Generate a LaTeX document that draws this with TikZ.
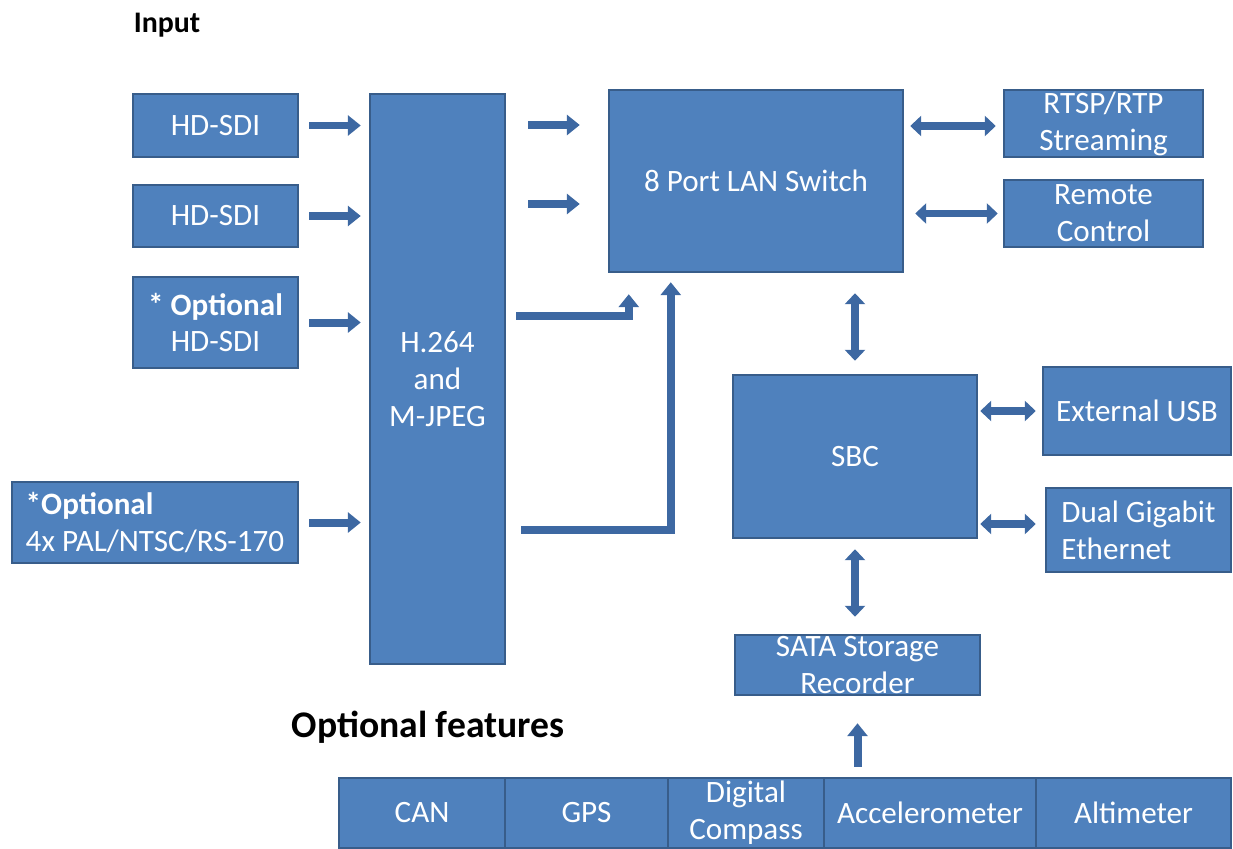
\documentclass[tikz,border=0pt]{standalone}
\usepackage{fontspec}
\setmainfont{Carlito}
\usepackage{xcolor}
\usetikzlibrary{arrows.meta, positioning}
\definecolor{boxfill}{HTML}{4F81BD}
\definecolor{boxline}{HTML}{385D8A}
\definecolor{arrblue}{HTML}{3D68A2}

\begin{document}
\begin{tikzpicture}[
  x=0.02cm, y=-0.02cm,
  blk/.style={draw=boxline, fill=boxfill, line width=0.05cm, inner sep=0pt,
    text=white, align=center, font=\fontsize{17.7}{21}\selectfont},
  arr/.style={draw=arrblue, line width=0.16cm, -{Triangle[width=0.4cm, length=0.26cm]}},
  darr/.style={draw=arrblue, line width=0.15cm, {Triangle[width=0.4cm, length=0.22cm]}-{Triangle[width=0.4cm, length=0.22cm]}},
  title/.style={font=\bfseries\fontsize{17}{20}\selectfont}
]
\useasboundingbox (0,0) rectangle (1233,848);

% inputs
\node[title] (intitle) at (167,25) {Input};
\node[blk, minimum width=3.3cm, minimum height=1.26cm] (hd1) at (215.5,125.5) {HD-SDI};
\node[blk, minimum width=3.3cm, minimum height=1.24cm] (hd2) at (215.5,216) {HD-SDI};
\node[blk, minimum width=3.3cm, minimum height=1.82cm] (hd3) at (215.5,322.5) {\textbf{* Optional}\\HD-SDI};
\node[blk, minimum width=5.72cm, minimum height=1.62cm, align=left] (pal) at (155,522.5) {\textbf{*Optional}\\4x PAL/NTSC/RS-170};

% encoder, switch, sbc
\node[blk, minimum width=2.7cm, minimum height=11.4cm] (enc) at (437.5,379) {H.264\\and\\M-JPEG};
\node[blk, minimum width=5.88cm, minimum height=3.64cm] (lan) at (756,181) {8 Port LAN Switch};
\node[blk, minimum width=3.98cm, minimum height=1.34cm] (rtsp) at (1103.5,123.5) {RTSP/RTP\\Streaming};
\node[blk, minimum width=3.98cm, minimum height=1.34cm] (remote) at (1103.5,213.5) {Remote\\Control};
\node[blk, minimum width=4.88cm, minimum height=3.26cm] (sbc) at (855,456.5) {SBC};
\node[blk, minimum width=3.76cm, minimum height=1.76cm] (usb) at (1137,411) {External USB};
\node[blk, minimum width=3.7cm, minimum height=1.68cm, align=left] (gige) at (1138.5,530) {Dual Gigabit\\Ethernet};
\node[blk, minimum width=4.9cm, minimum height=1.2cm] (sata) at (857.5,665) {SATA Storage\\Recorder};

% optional features
\node[title, font=\bfseries\fontsize{21.4}{25}\selectfont] (opttitle) at (428,727) {Optional features};
\node[blk, minimum width=3.32cm, minimum height=1.4cm] (can) at (422,813) {CAN};
\node[blk, minimum width=3.26cm, minimum height=1.4cm] (gps) at (586.5,813) {GPS};
\node[blk, minimum width=3.12cm, minimum height=1.4cm] (compass) at (746,813) {Digital\\Compass};
\node[blk, minimum width=4.24cm, minimum height=1.4cm] (accel) at (930,813) {Accelerometer};
\node[blk, minimum width=3.9cm, minimum height=1.4cm] (alti) at (1133.5,813) {Altimeter};

% connectors
\draw[arr, shorten <=0.2cm, shorten >=0.16cm] (hd1.east) -- (hd1.east -| enc.west);
\draw[arr, shorten <=0.2cm, shorten >=0.16cm] (hd2.east) -- (hd2.east -| enc.west);
\draw[arr, shorten <=0.2cm, shorten >=0.16cm] (hd3.east) -- (hd3.east -| enc.west);
\draw[arr, shorten <=0.2cm, shorten >=0.16cm] (pal.east) -- (pal.east -| enc.west);
\draw[arr, shorten <=0.44cm, shorten >=0.56cm] ([yshift=1.12cm]lan.west -| enc.east) -- ([yshift=1.12cm]lan.west);
\draw[arr, shorten <=0.44cm, shorten >=0.56cm] ([yshift=-0.46cm]lan.west -| enc.east) -- ([yshift=-0.46cm]lan.west);
\draw[arr, shorten <=0.2cm, shorten >=0.42cm] ([yshift=1.26cm]enc.east) -| ([xshift=0.42cm]lan.south west);
\draw[arr, shorten <=0.3cm, shorten >=0.18cm] ([yshift=-3.02cm]enc.east) -| ([xshift=1.26cm]lan.south west);
\draw[darr, shorten <=0.12cm, shorten >=0.14cm] ([yshift=-0.05cm]rtsp.west -| lan.east) -- ([yshift=-0.05cm]rtsp.west);
\draw[darr, shorten <=0.22cm, shorten >=0.1cm] (remote.west -| lan.east) -- (remote.west);
\draw[darr, shorten <=0.26cm, shorten >=0.4cm] (sbc.north) -- (sbc.north |- lan.south);
\draw[darr, shorten <=0.04cm, shorten >=0.12cm] (usb.west -| sbc.east) -- (usb.west);
\draw[darr, shorten <=0.04cm, shorten >=0.18cm] ([yshift=0.12cm]gige.west -| sbc.east) -- ([yshift=0.12cm]gige.west);
\draw[darr, shorten <=0.2cm, shorten >=0.34cm] (sbc.south) -- (sbc.south |- sata.north);
\draw[arr, shorten <=0.2cm, shorten >=0.54cm] (sata.south |- accel.north) -- (sata.south);
\end{tikzpicture}
\end{document}
